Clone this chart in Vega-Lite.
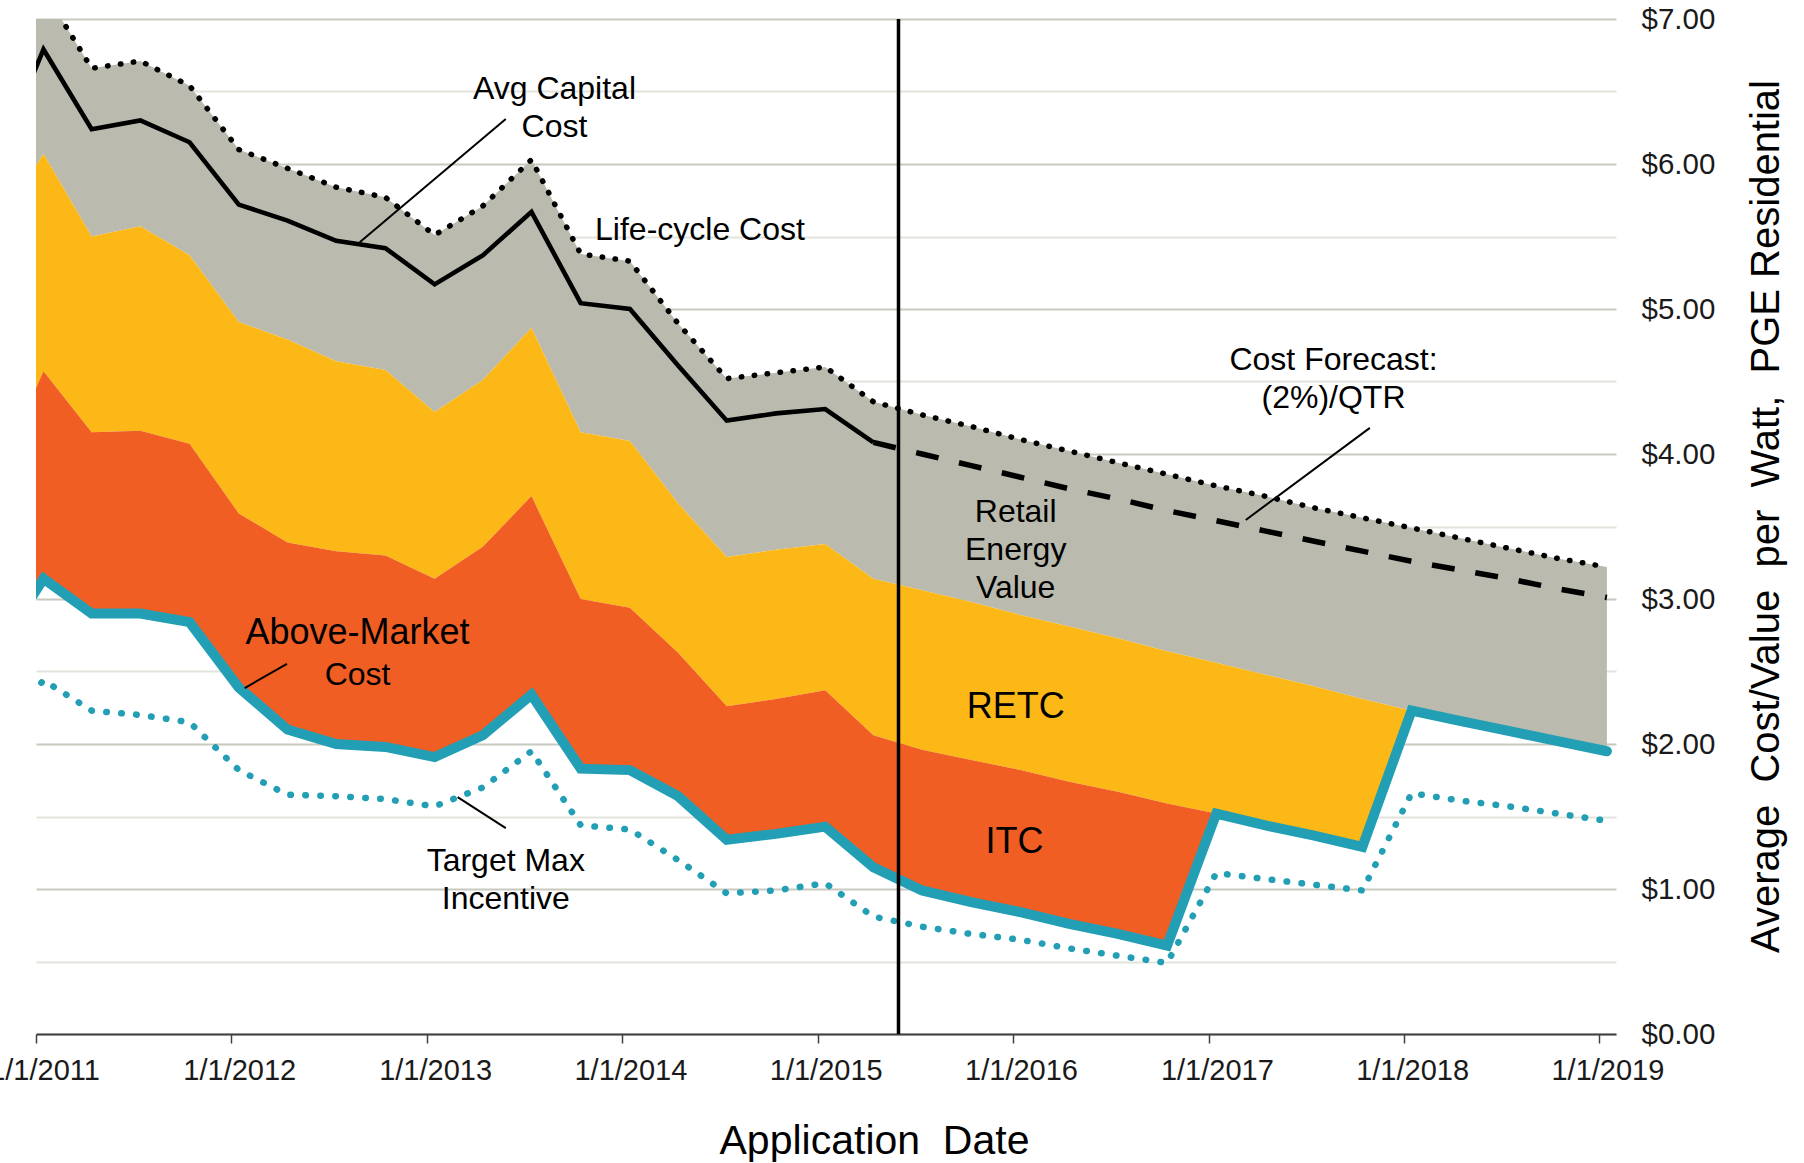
{
  "$schema": "https://vega.github.io/schema/vega-lite/v6.json",
  "width": 1580,
  "height": 1015,
  "autosize": {"type": "none"},
  "padding": {"left": 36, "top": 19, "right": 188, "bottom": 129},
  "background": "white",
  "config": {"view": {"stroke": null}, "font": "Liberation Sans"},
  "datasets": {
    "main": [
      {"date":"2010-10-15","LC":6.4,"AC":5.97,"YT":5.54,"OT":3.81,"TL":2.61,"TM":2.02},
      {"date":"2011-01-15","LC":7.2,"AC":6.79,"YT":6.07,"OT":4.57,"TL":3.14,"TM":2.44},
      {"date":"2011-04-15","LC":6.66,"AC":6.24,"YT":5.50,"OT":4.15,"TL":2.90,"TM":2.23},
      {"date":"2011-07-15","LC":6.71,"AC":6.30,"YT":5.57,"OT":4.16,"TL":2.90,"TM":2.20},
      {"date":"2011-10-15","LC":6.54,"AC":6.15,"YT":5.37,"OT":4.07,"TL":2.84,"TM":2.15},
      {"date":"2012-01-15","LC":6.10,"AC":5.72,"YT":4.91,"OT":3.59,"TL":2.39,"TM":1.82},
      {"date":"2012-04-15","LC":5.97,"AC":5.61,"YT":4.79,"OT":3.39,"TL":2.10,"TM":1.65},
      {"date":"2012-07-15","LC":5.84,"AC":5.47,"YT":4.64,"OT":3.33,"TL":2.00,"TM":1.64},
      {"date":"2012-10-15","LC":5.77,"AC":5.42,"YT":4.58,"OT":3.30,"TL":1.98,"TM":1.62},
      {"date":"2013-01-15","LC":5.51,"AC":5.17,"YT":4.29,"OT":3.14,"TL":1.91,"TM":1.57},
      {"date":"2013-04-15","LC":5.71,"AC":5.37,"YT":4.51,"OT":3.36,"TL":2.06,"TM":1.70},
      {"date":"2013-07-15","LC":6.03,"AC":5.67,"YT":4.87,"OT":3.71,"TL":2.34,"TM":1.95},
      {"date":"2013-10-15","LC":5.38,"AC":5.04,"YT":4.15,"OT":3.00,"TL":1.83,"TM":1.44},
      {"date":"2014-01-15","LC":5.33,"AC":5.00,"YT":4.09,"OT":2.94,"TL":1.82,"TM":1.41},
      {"date":"2014-04-15","LC":4.90,"AC":4.61,"YT":3.66,"OT":2.63,"TL":1.64,"TM":1.20},
      {"date":"2014-07-15","LC":4.52,"AC":4.23,"YT":3.29,"OT":2.26,"TL":1.34,"TM":0.97},
      {"date":"2014-10-15","LC":4.56,"AC":4.28,"YT":3.34,"OT":2.31,"TL":1.38,"TM":0.99},
      {"date":"2015-01-15","LC":4.60,"AC":4.31,"YT":3.38,"OT":2.37,"TL":1.43,"TM":1.04},
      {"date":"2015-04-15","LC":4.36,"AC":4.08,"FC":4.08,"YT":3.14,"OT":2.06,"TL":1.15,"TM":0.81},
      {"date":"2015-07-15","LC":4.27,"FC":4.00,"YT":3.06,"OT":1.96,"TL":0.99,"TM":0.74},
      {"date":"2015-10-15","LC":4.19,"FC":3.92,"YT":2.98,"OT":1.89,"TL":0.91,"TM":0.69},
      {"date":"2016-01-15","LC":4.10,"FC":3.84,"YT":2.89,"OT":1.82,"TL":0.84,"TM":0.65},
      {"date":"2016-04-15","LC":4.02,"FC":3.76,"YT":2.81,"OT":1.74,"TL":0.76,"TM":0.59},
      {"date":"2016-07-15","LC":3.94,"FC":3.69,"YT":2.73,"OT":1.67,"TL":0.69,"TM":0.54},
      {"date":"2016-10-15","LC":3.86,"FC":3.61,"YT":2.64,"OT":1.59,"TL":0.61,"TM":0.49},
      {"date":"2017-01-15","LC":3.78,"FC":3.54,"YT":2.56,"OT":1.52,"TL":1.52,"TM":1.11},
      {"date":"2017-04-15","LC":3.71,"FC":3.47,"YT":2.48,"OT":1.44,"TL":1.44,"TM":1.07},
      {"date":"2017-07-15","LC":3.63,"FC":3.40,"YT":2.40,"OT":1.37,"TL":1.37,"TM":1.03},
      {"date":"2017-10-15","LC":3.56,"FC":3.33,"YT":2.31,"OT":1.29,"TL":1.29,"TM":0.99},
      {"date":"2018-01-15","LC":3.49,"FC":3.26,"YT":2.23,"OT":2.23,"TL":2.23,"TM":1.66},
      {"date":"2018-04-15","LC":3.42,"FC":3.20,"YT":2.16,"OT":2.16,"TL":2.16,"TM":1.61},
      {"date":"2018-07-15","LC":3.35,"FC":3.14,"YT":2.09,"OT":2.09,"TL":2.09,"TM":1.57},
      {"date":"2018-10-15","LC":3.28,"FC":3.07,"YT":2.02,"OT":2.02,"TL":2.02,"TM":1.52},
      {"date":"2019-01-15","LC":3.22,"FC":3.01,"YT":1.95,"OT":1.95,"TL":1.95,"TM":1.47}
    ],
    "leaders": [
      {"d1":"2013-05-28","v1":6.31,"d2":"2012-08-28","v2":5.46},
      {"d1":"2017-10-29","v1":4.18,"d2":"2017-03-11","v2":3.545},
      {"d1":"2012-04-14","v1":2.553,"d2":"2012-01-26","v2":2.386},
      {"d1":"2013-02-27","v1":1.634,"d2":"2013-05-28","v2":1.42}
    ],
    "marker": [{"date":"2015-06-01"}],
    "labels": [
      {"date":"2013-08-27","v":6.516,"text":"Avg Capital\nCost"},
      {"date":"2014-05-26","v":5.548,"text":"Life-cycle Cost"},
      {"date":"2017-08-22","v":4.649,"text":"Cost Forecast:\n(2%)/QTR"},
      {"date":"2016-01-06","v":3.601,"text":"Retail\nEnergy\nValue"},
      {"date":"2013-05-28","v":1.194,"text":"Target Max\nIncentive"},
      {"date":"2012-08-24","v":2.477,"text":"Cost"}
    ],
    "biglabels": [
      {"date":"2016-01-06","v":2.256,"text":"RETC"},
      {"date":"2016-01-04","v":1.321,"text":"ITC"},
      {"date":"2012-08-24","v":2.763,"text":"Above-Market"}
    ]
  },
  "layer": [
    {
      "data": {"name": "main"},
      "mark": {"type": "area", "color": "#BABBAE", "clip": true},
      "encoding": {
        "x": {
          "field": "date", "type": "temporal",
          "scale": {"type": "utc", "domain": [{"year":2011,"month":1,"date":1,"utc":true},{"year":2019,"month":2,"date":1,"utc":true}]},
          "axis": {
            "title": "Application\u00a0 Date",
            "values": [
              {"year":2011,"month":1,"date":1,"utc":true},{"year":2012,"month":1,"date":1,"utc":true},
              {"year":2013,"month":1,"date":1,"utc":true},{"year":2014,"month":1,"date":1,"utc":true},
              {"year":2015,"month":1,"date":1,"utc":true},{"year":2016,"month":1,"date":1,"utc":true},
              {"year":2017,"month":1,"date":1,"utc":true},{"year":2018,"month":1,"date":1,"utc":true},
              {"year":2019,"month":1,"date":1,"utc":true}
            ],
            "labelExpr": "utcFormat(datum.value, '%-m/%-d/%Y')",
            "labelFontSize": 29,
            "labelColor": "#1a1a1a",
            "labelOffset": 8,
            "labelPadding": 13,
            "labelFlush": false,
            "labelOverlap": false,
            "labelBound": false,
            "grid": false,
            "domainColor": "#404040",
            "domainWidth": 2,
            "tickColor": "#404040",
            "tickWidth": 1.5,
            "tickSize": 9,
            "titleFontSize": 41,
            "titleFontWeight": "normal",
            "titleColor": "#000000",
            "titleX": 838,
            "titleY": 107,
            "titleAlign": "center",
            "titleBaseline": "middle"
          }
        },
        "y": {
          "field": "LC", "type": "quantitative",
          "scale": {"domain": [0, 7], "nice": false, "zero": true},
          "axis": {
            "title": "Average\u00a0 Cost/Value\u00a0 per\u00a0 Watt,\u00a0 PGE Residential",
            "orient": "right",
            "values": [0,0.5,1,1.5,2,2.5,3,3.5,4,4.5,5,5.5,6,6.5,7],
            "labelExpr": "datum.value % 1 === 0 ? '$' + format(datum.value, '.2f') : ''",
            "labelFontSize": 29.5,
            "labelColor": "#1a1a1a",
            "labelPadding": 25,
            "ticks": false,
            "tickSize": 0,
            "domain": false,
            "grid": true,
            "gridColor": {"condition": {"test": "datum.value % 1 === 0", "value": "#c9c9bf"}, "value": "#e3e3de"},
            "gridWidth": 1.8,
            "labelOverlap": false,
            "labelFlush": false,
            "labelBound": false,
            "titleFontSize": 40,
            "titleFontWeight": "normal",
            "titleColor": "#000000",
            "titleAngle": 270,
            "titleX": 150,
            "titleY": 497,
            "titleAlign": "center",
            "titleBaseline": "middle"
          }
        },
        "y2": {"field": "YT"}
      }
    },
    {
      "data": {"name": "main"},
      "mark": {"type": "area", "color": "#FCB817", "clip": true},
      "encoding": {
        "x": {"field": "date", "type": "temporal", "scale": {"type": "utc"}},
        "y": {"field": "YT", "type": "quantitative"},
        "y2": {"field": "OT"}
      }
    },
    {
      "data": {"name": "main"},
      "mark": {"type": "area", "color": "#F15E24", "clip": true},
      "encoding": {
        "x": {"field": "date", "type": "temporal", "scale": {"type": "utc"}},
        "y": {"field": "OT", "type": "quantitative"},
        "y2": {"field": "TL"}
      }
    },
    {
      "data": {"name": "main"},
      "mark": {"type": "line", "color": "#229FB5", "strokeWidth": 6.5, "strokeDash": [0.5, 14.5], "strokeCap": "round", "clip": true},
      "encoding": {
        "x": {"field": "date", "type": "temporal", "scale": {"type": "utc"}},
        "y": {"field": "TM", "type": "quantitative"}
      }
    },
    {
      "data": {"name": "main"},
      "mark": {"type": "line", "color": "#229FB5", "strokeWidth": 10, "strokeCap": "round", "strokeJoin": "miter", "clip": true},
      "encoding": {
        "x": {"field": "date", "type": "temporal", "scale": {"type": "utc"}},
        "y": {"field": "TL", "type": "quantitative"}
      }
    },
    {
      "data": {"name": "main"},
      "mark": {"type": "line", "color": "#000000", "strokeWidth": 5.5, "strokeDash": [0.5, 12.5], "strokeCap": "round", "clip": true},
      "encoding": {
        "x": {"field": "date", "type": "temporal", "scale": {"type": "utc"}},
        "y": {"field": "LC", "type": "quantitative"}
      }
    },
    {
      "data": {"name": "main"},
      "transform": [{"filter": "datum.AC != null"}],
      "mark": {"type": "line", "color": "#000000", "strokeWidth": 4.6, "clip": true},
      "encoding": {
        "x": {"field": "date", "type": "temporal", "scale": {"type": "utc"}},
        "y": {"field": "AC", "type": "quantitative"}
      }
    },
    {
      "data": {"name": "main"},
      "transform": [{"filter": "datum.FC != null"}],
      "mark": {"type": "line", "color": "#000000", "strokeWidth": 5.5, "strokeDash": [23, 21], "clip": true},
      "encoding": {
        "x": {"field": "date", "type": "temporal", "scale": {"type": "utc"}},
        "y": {"field": "FC", "type": "quantitative"}
      }
    },
    {
      "data": {"name": "leaders"},
      "mark": {"type": "rule", "color": "#000000", "strokeWidth": 2},
      "encoding": {
        "x": {"field": "d1", "type": "temporal", "scale": {"type": "utc"}},
        "x2": {"field": "d2"},
        "y": {"field": "v1", "type": "quantitative"},
        "y2": {"field": "v2"}
      }
    },
    {
      "data": {"name": "marker"},
      "mark": {"type": "rule", "color": "#000000", "strokeWidth": 3.5},
      "encoding": {
        "x": {"field": "date", "type": "temporal", "scale": {"type": "utc"}}
      }
    },
    {
      "data": {"name": "labels"},
      "mark": {"type": "text", "fontSize": 32, "color": "#000000", "align": "center", "baseline": "middle", "lineBreak": "\n", "lineHeight": 38},
      "encoding": {
        "x": {"field": "date", "type": "temporal", "scale": {"type": "utc"}},
        "y": {"field": "v", "type": "quantitative"},
        "text": {"field": "text"}
      }
    },
    {
      "data": {"name": "biglabels"},
      "mark": {"type": "text", "fontSize": 36, "color": "#000000", "align": "center", "baseline": "middle"},
      "encoding": {
        "x": {"field": "date", "type": "temporal", "scale": {"type": "utc"}},
        "y": {"field": "v", "type": "quantitative"},
        "text": {"field": "text"}
      }
    }
  ]
}
